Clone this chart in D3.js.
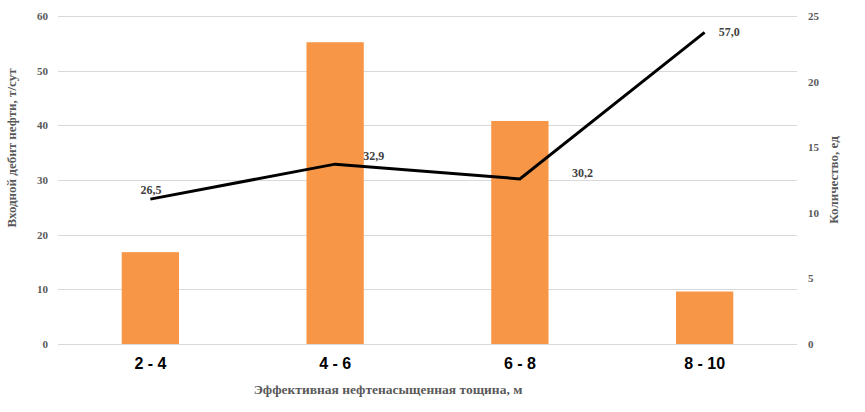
<!DOCTYPE html>
<html><head><meta charset="utf-8">
<script src="https://cdn.jsdelivr.net/npm/d3@7"></script>
<style>body{margin:0;background:#fff}</style>
</head><body>
<svg id="c" width="865" height="412"></svg>
<script>
const categories = ["2 - 4", "4 - 6", "6 - 8", "8 - 10"];
const countValues = [7, 23, 17, 4];
const flowValues = [26.5, 32.9, 30.2, 57.0];
const leftTicks = [0, 10, 20, 30, 40, 50, 60];
const rightTicks = [0, 5, 10, 15, 20, 25];

const svg = d3.select("#c");
const m = {l: 58, r: 68, t: 16, b: 68};
const W = 865, H = 412;
const x = d3.scaleBand().domain(categories).range([m.l, W - m.r]).paddingInner(0.69).paddingOuter(0.345);
const yL = d3.scaleLinear().domain([0, 60]).range([H - m.b, m.t]);
const yR = d3.scaleLinear().domain([0, 25]).range([H - m.b, m.t]);

// grid
svg.append("g").selectAll("line").data(leftTicks).join("line")
  .attr("x1", m.l).attr("x2", W - m.r)
  .attr("y1", d => Math.round(yL(d)) + 0.5).attr("y2", d => Math.round(yL(d)) + 0.5)
  .attr("stroke", "#d9d9d9").attr("stroke-width", 1);

// left axis
const la = svg.append("g").attr("transform", `translate(${m.l},0)`)
  .call(d3.axisLeft(yL).tickValues(leftTicks).tickSize(0).tickPadding(10));
la.select(".domain").remove();
la.selectAll("text").attr("font-family", "Liberation Serif").attr("font-size", 11).attr("font-weight", "bold").attr("fill", "#595959");

// right axis
const ra = svg.append("g").attr("transform", `translate(${W - m.r},0)`)
  .call(d3.axisRight(yR).tickValues(rightTicks).tickSize(0).tickPadding(11));
ra.select(".domain").remove();
ra.selectAll("text").attr("font-family", "Liberation Serif").attr("font-size", 11).attr("font-weight", "bold").attr("fill", "#595959");

// bars
svg.append("g").selectAll("rect").data(countValues).join("rect")
  .attr("x", (d, i) => x(categories[i]))
  .attr("width", x.bandwidth())
  .attr("y", d => yR(d))
  .attr("height", d => yR(0) - yR(d))
  .attr("fill", "#F79646");

// category axis
const xa = svg.append("g").attr("transform", `translate(0,${H - m.b})`)
  .call(d3.axisBottom(x).tickSize(0).tickPadding(14));
xa.select(".domain").remove();
xa.selectAll("text").attr("font-family", "Liberation Sans").attr("font-size", 16).attr("font-weight", "bold").attr("fill", "#000");

// line
const cx = i => x(categories[i]) + x.bandwidth() / 2;
svg.append("path").datum(flowValues)
  .attr("d", d3.line().x((d, i) => cx(i)).y(d => yL(d)))
  .attr("fill", "none").attr("stroke", "#000").attr("stroke-width", 3);

// labels
const offs = [[-10, -5, "start"], [28, -4, "start"], [52, -2, "start"], [14, 4, "start"]];
svg.append("g").selectAll("text").data(flowValues).join("text")
  .attr("x", (d, i) => cx(i) + offs[i][0])
  .attr("y", (d, i) => yL(d) + offs[i][1])
  .attr("text-anchor", "start")
  .attr("font-family", "Liberation Serif").attr("font-size", 12).attr("font-weight", "bold").attr("fill", "#404040")
  .text(d => d.toFixed(1).replace(".", ","));

// axis titles
svg.append("text").attr("x", 388).attr("y", 394).attr("text-anchor", "middle")
  .attr("font-family", "Liberation Serif").attr("font-size", 13.5).attr("font-weight", "bold").attr("fill", "#595959")
  .text("Эффективная нефтенасыщенная тощина, м");
svg.append("text").attr("transform", "translate(16,148) rotate(-90)").attr("text-anchor", "middle")
  .attr("font-family", "Liberation Serif").attr("font-size", 13).attr("font-weight", "bold").attr("fill", "#595959")
  .text("Входной дебит нефти, т/сут");
svg.append("text").attr("transform", "translate(838,180) rotate(-90)").attr("text-anchor", "middle")
  .attr("font-family", "Liberation Serif").attr("font-size", 13).attr("font-weight", "bold").attr("fill", "#595959")
  .text("Количество, ед");
</script>
</body></html>
